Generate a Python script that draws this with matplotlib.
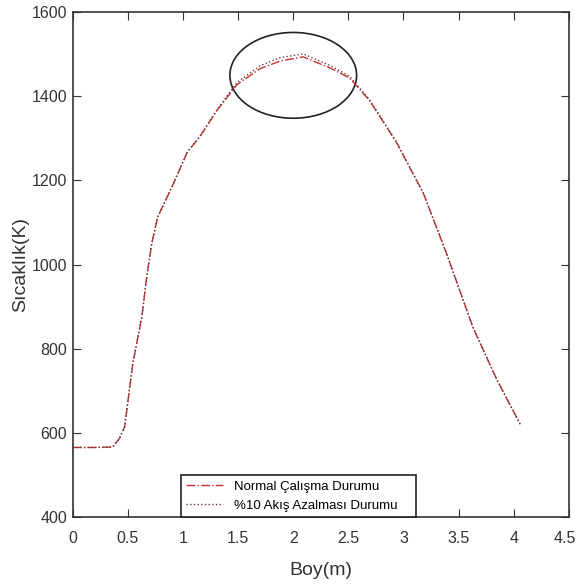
""" Sicaklik dagilimi: normal calisma ve %10 akis azalmasi. """
import matplotlib.pyplot as plt
import matplotlib.transforms as mtransforms
from matplotlib.patches import Ellipse

plt.rcParams['font.family'] = ['Liberation Sans', 'DejaVu Sans']

boy = [0.0, 0.2, 0.36, 0.42, 0.47, 0.545, 0.626, 0.67, 0.717, 0.77, 0.90,
       1.04, 1.15, 1.31, 1.49, 1.70, 1.88, 2.09, 2.33, 2.51, 2.69, 2.94,
       3.18, 3.39, 3.63, 3.85, 4.06]
sicaklik_normal = [565, 565, 566, 585, 614, 766, 875, 970, 1051, 1113, 1185,
                   1268, 1303, 1367, 1428, 1466, 1484, 1494, 1468, 1444,
                   1391, 1289, 1170, 1027, 851, 725, 620]
sicaklik_azalma = [565, 565, 566, 585, 614, 766, 875, 970, 1051, 1113, 1185,
                   1268, 1304, 1369, 1433, 1473, 1492, 1501, 1474, 1448,
                   1393, 1290, 1170, 1027, 851, 725, 620]

xticks = [0, 0.5, 1, 1.5, 2, 2.5, 3, 3.5, 4, 4.5]
xticklabels = ['0', '0.5', '1', '1.5', '2', '2.5', '3', '3.5', '4', '4.5']
yticks = [400, 600, 800, 1000, 1200, 1400, 1600]


def main():
    fig = plt.figure(figsize=(5.78, 5.84), dpi=100)
    ax = fig.add_axes([0.126, 0.115, 0.858, 0.864])

    ax.plot(boy, sicaklik_normal, linestyle='-.', color='#c8302f', lw=1.0,
            label='Normal Çalışma Durumu')
    ax.plot(boy, sicaklik_azalma, linestyle=':', color='#6a3a3a', lw=1.0,
            label='%10 Akış Azalması Durumu')

    ax.add_patch(Ellipse((2.0, 1450), 1.15, 204, fill=False,
                         edgecolor='#222222', lw=1.2))

    ax.set_xlim(0, 4.5)
    ax.set_ylim(400, 1600)
    ax.set_xticks(xticks)
    ax.set_xticklabels(xticklabels)
    ax.set_yticks(yticks)
    ax.tick_params(direction='in', top=True, right=True, labelsize=11.5,
                   colors='#333333', length=6)
    ax.tick_params(axis='x', pad=10)
    ax.tick_params(axis='y', pad=4)
    for s in ax.spines.values():
        s.set_color('#333333')
        s.set_linewidth(1.2)

    # keep the last x label inside the figure
    last = ax.get_xticklabels()[-1]
    shift = mtransforms.ScaledTranslation(-4 / 100, 0, fig.dpi_scale_trans)
    last.set_transform(last.get_transform() + shift)

    ax.set_xlabel('Boy(m)', fontsize=14, color='#333333', labelpad=12)
    ax.set_ylabel('Sıcaklık(K)', fontsize=14, color='#333333', labelpad=1.5)

    leg = ax.legend(loc='lower left', bbox_to_anchor=(0.218, 0.0, 0.474, 0.117),
                    mode='expand', fontsize=9.5, handlelength=2.8,
                    fancybox=False, framealpha=1, borderaxespad=0)
    leg.get_frame().set_edgecolor('#222222')
    leg.get_frame().set_linewidth(1.2)

    fig.savefig('out.png')


if __name__ == "__main__":
    main()
